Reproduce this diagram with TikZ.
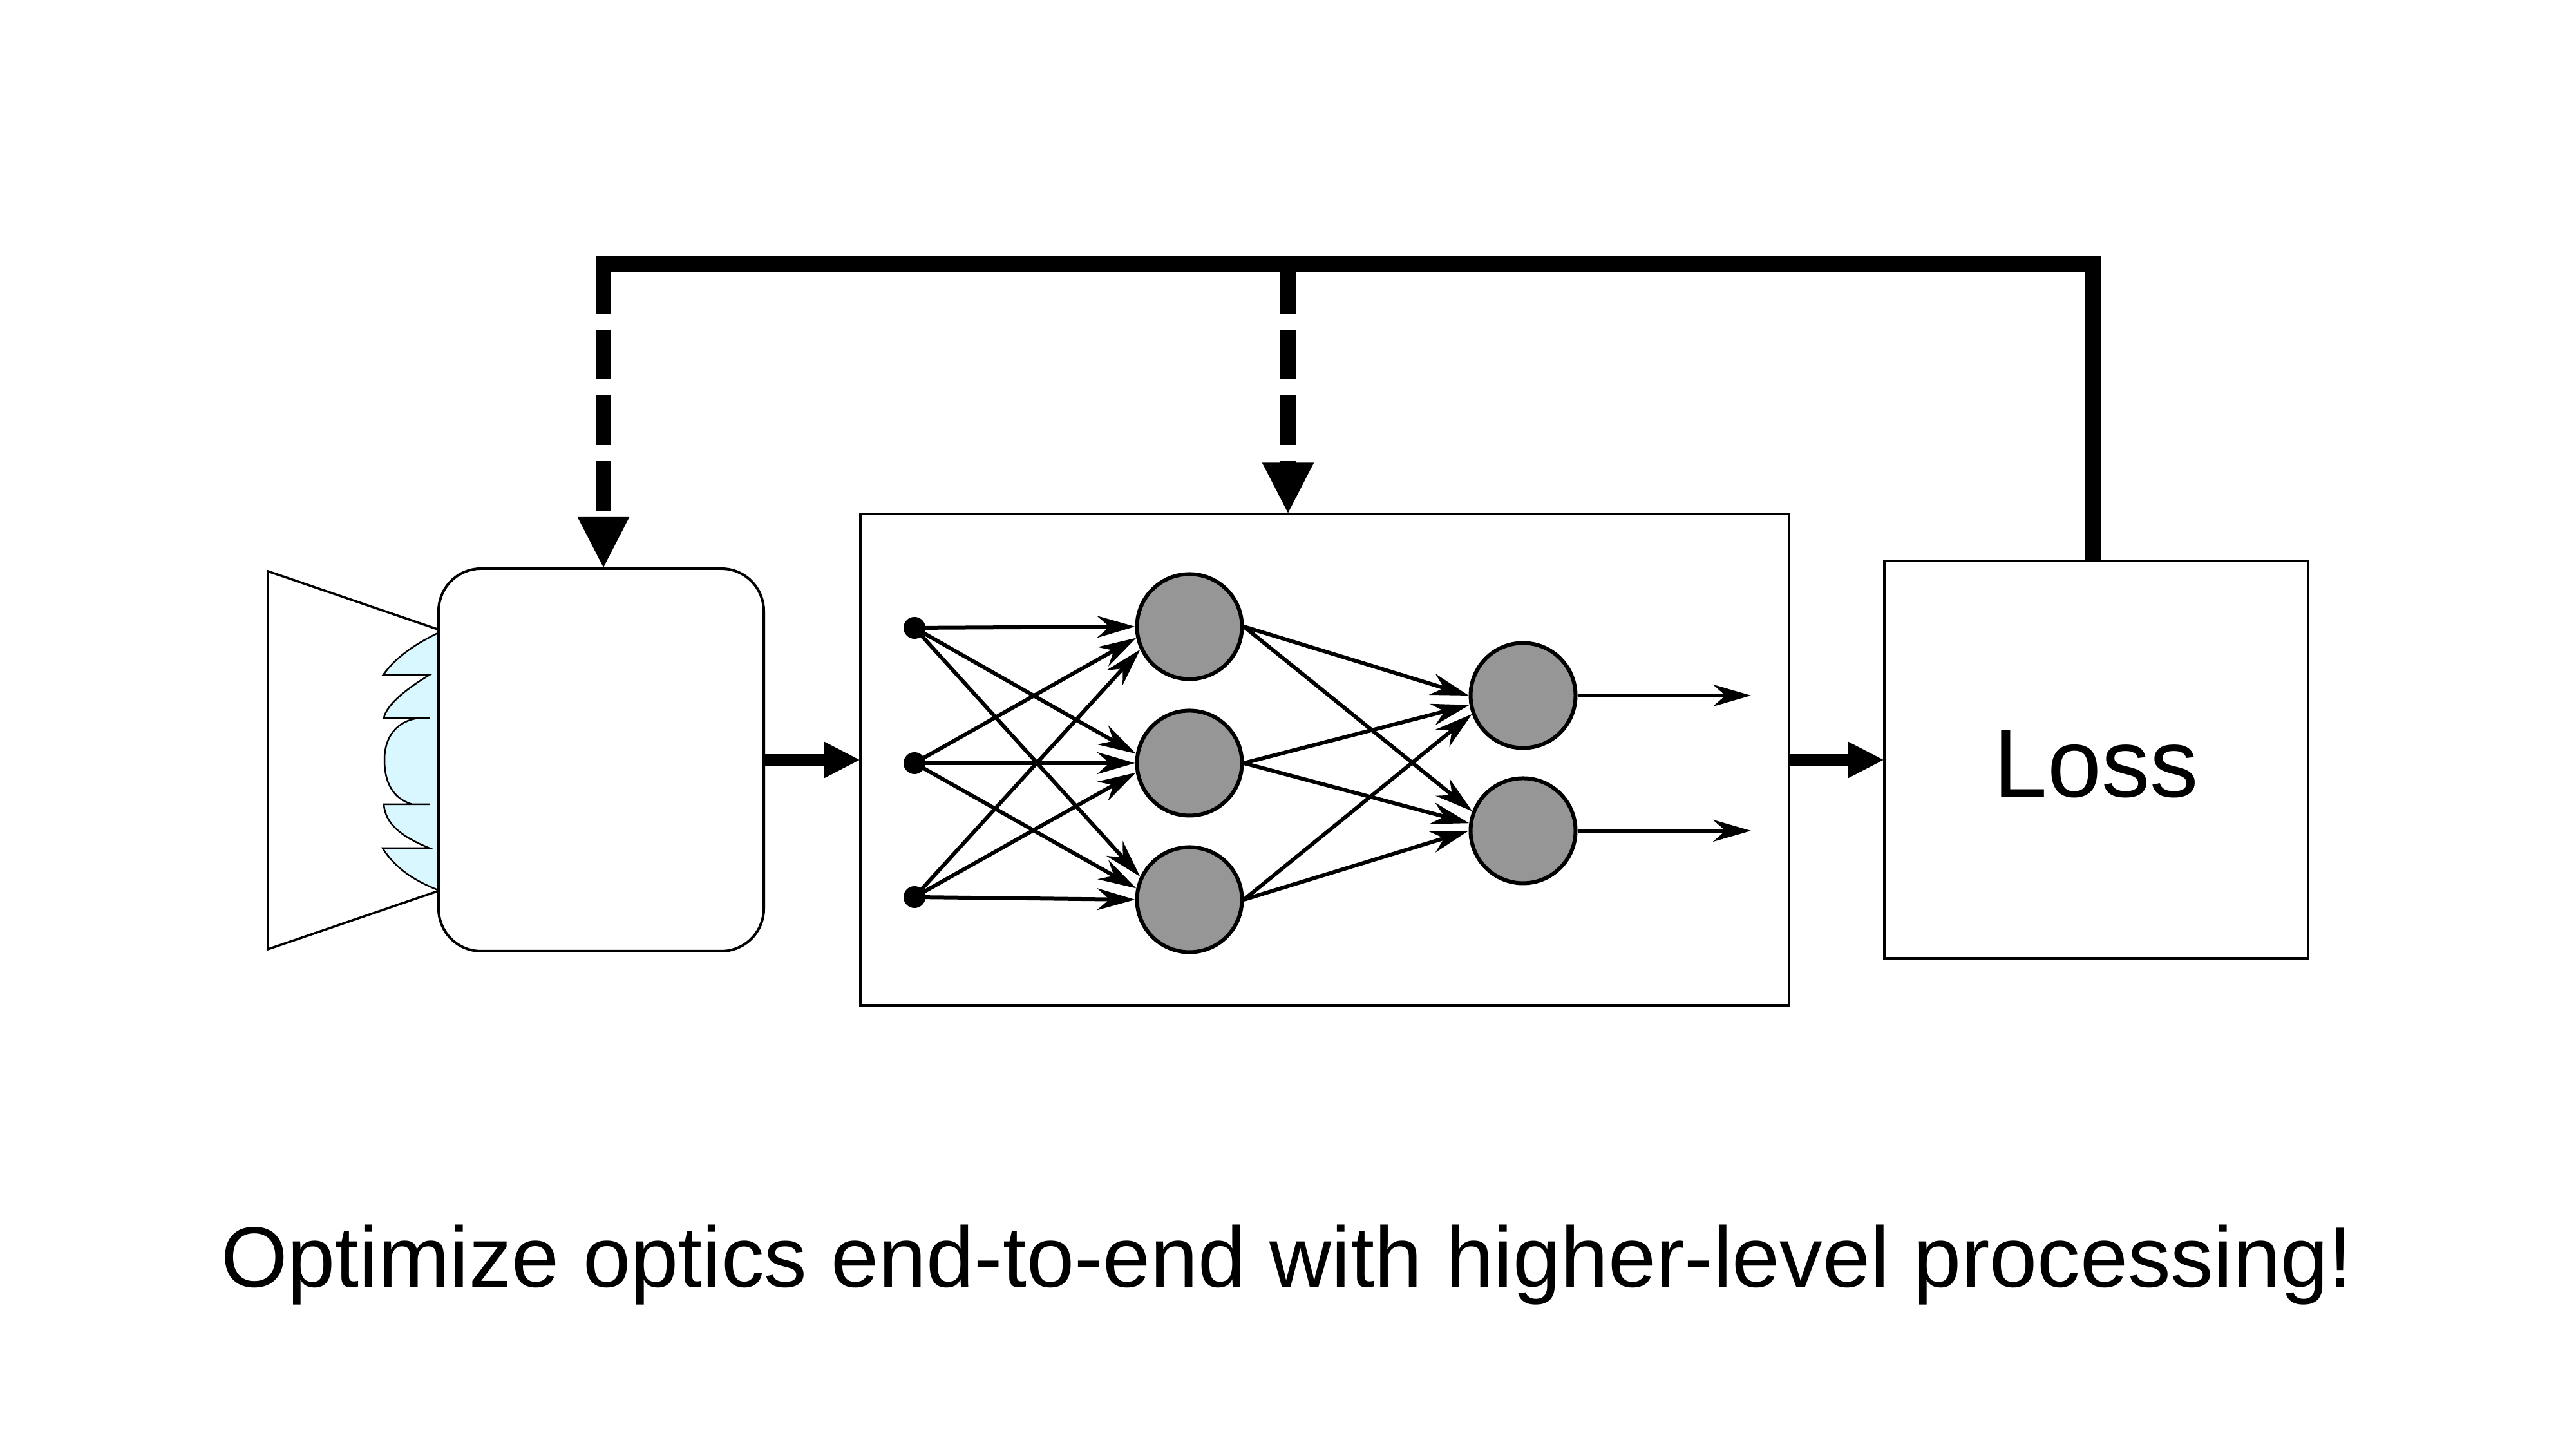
\documentclass[tikz,border=0pt]{standalone}
\usepackage{fontspec}
\setmainfont{Liberation Sans}
\usetikzlibrary{arrows.meta, positioning}

\definecolor{lensblue}{HTML}{D9F7FF}
\definecolor{unitgray}{HTML}{969696}

\tikzset{
    blockbox/.style={draw, line width=0.4mm, fill=white, inner sep=0pt, outer sep=0pt},
    unit/.style={draw, circle, line width=0.6mm, fill=unitgray, minimum size=16.3mm, inner sep=0pt},
    inputdot/.style={fill=black, circle, minimum size=3.4mm, inner sep=0pt},
    nnarrow/.style={line width=0.6mm, -{Stealth[length=5.9mm,width=3.4mm]}},
    blockarrow/.style={line width=1.85mm, -{Triangle[length=5.6mm,width=5.2mm]}},
    feedline/.style={line width=2.35mm},
    feeddash/.style={line width=2.4mm, dash pattern=on 7.7mm off 2.5mm, -{Triangle[length=8mm,width=7.4mm]}}
}

\begin{document}
\begin{tikzpicture}
    \useasboundingbox (0,0) rectangle (40,22.5);

    % Camera housing
    \draw[line width=0.35mm, fill=white] (4.16,13.63) -- (6.82,12.72) -- (6.82,8.67) -- (4.16,7.76) -- cycle;

    % Lens elements
    \draw[line width=0.25mm, fill=lensblue] (6.80,12.67) .. controls (6.45,12.5) and (6.15,12.3) .. (5.95,12.02)
        -- (6.67,12.02) .. controls (6.30,11.80) and (6.00,11.55) .. (5.96,11.35)
        -- (6.67,11.35) -- (6.50,11.35) .. controls (6.15,11.30) and (5.97,11.05) .. (5.97,10.70)
        .. controls (5.97,10.35) and (6.10,10.10) .. (6.40,10.01)
        -- (6.67,10.01) -- (5.96,10.01) .. controls (5.98,9.70) and (6.25,9.50) .. (6.67,9.33)
        -- (5.94,9.33) .. controls (6.15,9.00) and (6.45,8.82) .. (6.80,8.68);

    % Main blocks
    \node[blockbox, rounded corners=6.6mm, minimum width=50.5mm, minimum height=59.4mm] (sensor) at (9.335,10.70) {};
    \node[blockbox, minimum width=144.2mm, minimum height=76.3mm] (network) at (20.57,10.70) {};
    \node[blockbox, minimum width=65.8mm, minimum height=61.7mm, text height=11.6mm, text depth=0pt, font=\fontsize{42.9pt}{50pt}\selectfont] (loss) at (32.55,10.70) {Loss};

    % Network units
    \foreach \y/\z [count=\i] in {12.75/12.77,10.65/10.65,8.57/8.53}
    {
        \node[inputdot] (in\i) at (14.20,\y) {};
        \node[unit] (hid\i) at (18.47,\z) {};
    }
    \node[unit] (top1) at (23.65,11.70) {};
    \node[unit] (top2) at (23.65,9.60) {};

    % Network connections
    \foreach \a/\b in {in1/hid1.180,in2/hid1.192,in3/hid1.205,in1/hid2.170,in2/hid2.180,in3/hid2.190,in1/hid3.155,in2/hid3.168,in3/hid3.180}
    {
        \draw[nnarrow] (\a.center) -- (\b);
    }
    \foreach \a/\b in {hid1/top1.180,hid1/top2.159,hid2/top1.190,hid2/top2.172,hid3/top1.200,hid3/top2.180}
    {
        \draw[nnarrow] (\a.east) -- (\b);
    }

    % Network outputs
    \coordinate (out1) at (27.19,11.70);
    \coordinate (out2) at (27.19,9.60);
    \draw[nnarrow] (top1.east) -- (out1);
    \draw[nnarrow] (top2.east) -- (out2);

    % Forward arrows
    \draw[blockarrow] (sensor.east) -- (network.west);
    \draw[blockarrow] (network.east) -- (loss.west);

    % Feedback from the loss
    \coordinate (lossout) at (32.50,13.79);
    \coordinate (feedright) at (32.50,18.40);
    \coordinate (feedmid) at (20.00,18.40);
    \coordinate (feedleft) at (9.37,18.40);
    \draw[feedline] (lossout) -- (feedright) -- (feedleft) -- ++(0,-0.3);
    \draw[feeddash] (feedleft) -- (feedleft |- sensor.north);
    \draw[feeddash] (feedmid) -- (feedmid |- network.north);

    % Caption
    \node[anchor=base, inner sep=0pt, font=\fontsize{37.9pt}{44pt}\selectfont] (caption) at (19.98,2.51) {Optimize optics end-to-end with higher-level processing!};
\end{tikzpicture}
\end{document}
